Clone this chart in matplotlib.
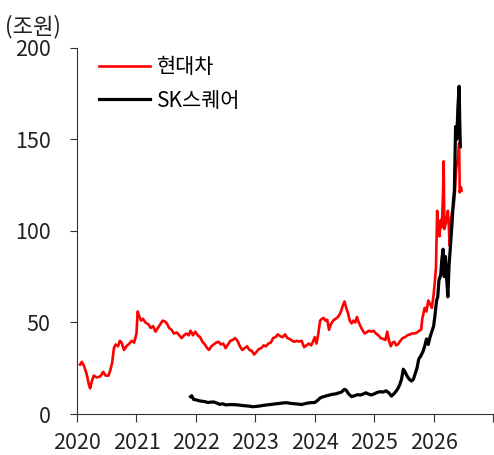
import matplotlib.pyplot as plt

plt.rcParams['font.family'] = ['Noto Sans CJK KR', 'DejaVu Sans']

# 현대차 시가총액 (조원)
hyundai_x = [2020.05, 2020.08, 2020.12, 2020.16, 2020.20, 2020.22, 2020.25, 2020.28, 2020.33, 2020.39,
             2020.44, 2020.48, 2020.53, 2020.56, 2020.59, 2020.62, 2020.65, 2020.69, 2020.72, 2020.75,
             2020.79, 2020.83, 2020.88, 2020.92, 2020.96, 2021.00, 2021.02, 2021.05, 2021.08, 2021.11,
             2021.15, 2021.20, 2021.24, 2021.28, 2021.32, 2021.36, 2021.40, 2021.44, 2021.48, 2021.51,
             2021.55, 2021.59, 2021.63, 2021.68, 2021.72, 2021.76, 2021.80, 2021.84, 2021.88, 2021.91,
             2021.95, 2021.99, 2022.03, 2022.07, 2022.11, 2022.15, 2022.19, 2022.22, 2022.26, 2022.30,
             2022.34, 2022.38, 2022.42, 2022.46, 2022.50, 2022.54, 2022.58, 2022.62, 2022.66, 2022.70,
             2022.74, 2022.78, 2022.82, 2022.86, 2022.90, 2022.94, 2022.98, 2023.02, 2023.06, 2023.10,
             2023.14, 2023.18, 2023.22, 2023.26, 2023.30, 2023.34, 2023.38, 2023.42, 2023.46, 2023.50,
             2023.54, 2023.58, 2023.62, 2023.66, 2023.70, 2023.74, 2023.78, 2023.82, 2023.86, 2023.90,
             2023.94, 2023.97, 2024.00, 2024.03, 2024.06, 2024.09, 2024.12, 2024.15, 2024.18, 2024.21,
             2024.24, 2024.27, 2024.31, 2024.35, 2024.39, 2024.43, 2024.47, 2024.50, 2024.53, 2024.56,
             2024.59, 2024.62, 2024.65, 2024.68, 2024.71, 2024.74, 2024.77, 2024.80, 2024.84, 2024.87,
             2024.91, 2024.95, 2024.99, 2025.03, 2025.07, 2025.11, 2025.15, 2025.19, 2025.22, 2025.25,
             2025.28, 2025.31, 2025.34, 2025.37, 2025.40, 2025.44, 2025.48, 2025.52, 2025.56, 2025.60,
             2025.64, 2025.68, 2025.72, 2025.76, 2025.79, 2025.81, 2025.83, 2025.85, 2025.88, 2025.91,
             2025.94, 2025.97, 2026.00, 2026.02, 2026.04, 2026.06, 2026.08, 2026.10, 2026.12, 2026.14,
             2026.16, 2026.17, 2026.18, 2026.21, 2026.24, 2026.26, 2026.27, 2026.29, 2026.31, 2026.34,
             2026.36, 2026.38, 2026.41, 2026.43, 2026.44, 2026.46, 2026.47]
hyundai_y = [27, 28.5, 26, 22, 16, 14, 18, 21, 20, 20.5,
             23, 21, 21, 24, 28, 36, 38, 37, 40, 39,
             35, 37, 38.5, 40, 39, 44, 56, 53, 51, 52,
             50, 49, 47, 48, 45, 47, 49, 51, 50.5, 49.5,
             47, 46, 44, 44.5, 43, 41.5, 43, 44, 43, 45.5,
             43, 45, 43, 42, 39.5, 38, 36, 35, 37, 38,
             39, 39.5, 38, 38.5, 36, 38, 40, 40.5, 41.5, 40,
             37, 35, 36, 37, 35, 34.5, 32.5, 34, 35.5, 36,
             37.5, 37, 38.5, 39, 41.5, 42, 43.5, 42.5, 42, 43.5,
             41.5, 41, 40, 39.5, 40, 39.5, 40, 36.5, 37.5, 38.5,
             37.5, 39.5, 42, 38.5, 44, 51, 52, 52.5, 51, 51.5,
             46, 49, 51, 52, 53, 55, 59, 61.5, 58, 55,
             51, 49.5, 51, 50, 53, 50, 48, 46, 44, 44.5,
             45.5, 45, 45.5, 44, 43, 41.5, 41, 40.5, 45, 40,
             37, 39, 39.5, 37.5, 38, 40, 41.5, 42, 43, 43.5,
             44, 44, 44.5, 45.5, 46, 52, 55, 58, 56, 62,
             60, 58, 65, 72, 80, 111, 100, 97, 106, 102,
             122, 138, 101, 105, 111, 100, 92, 106, 110, 114,
             122, 134, 140, 148, 121, 124, 122]

# SK스퀘어 시가총액 (조원)
sksq_x = [2021.91, 2021.93, 2021.96, 2022.00, 2022.05, 2022.10, 2022.15, 2022.20, 2022.25, 2022.30,
          2022.35, 2022.40, 2022.45, 2022.50, 2022.60, 2022.70, 2022.80, 2022.90, 2022.96, 2023.05,
          2023.15, 2023.25, 2023.35, 2023.45, 2023.52, 2023.60, 2023.70, 2023.78, 2023.85, 2023.92,
          2024.00, 2024.05, 2024.10, 2024.15, 2024.20, 2024.25, 2024.30, 2024.35, 2024.40, 2024.45,
          2024.50, 2024.53, 2024.57, 2024.62, 2024.67, 2024.72, 2024.77, 2024.82, 2024.86, 2024.90,
          2024.95, 2025.00, 2025.05, 2025.10, 2025.15, 2025.20, 2025.25, 2025.29, 2025.33, 2025.37,
          2025.40, 2025.43, 2025.46, 2025.49, 2025.52, 2025.55, 2025.59, 2025.63, 2025.66, 2025.69,
          2025.72, 2025.75, 2025.78, 2025.82, 2025.85, 2025.88, 2025.91, 2025.94, 2025.97, 2026.00,
          2026.02, 2026.05, 2026.07, 2026.09, 2026.12, 2026.14, 2026.16, 2026.18, 2026.20, 2026.22,
          2026.24, 2026.26, 2026.28, 2026.31, 2026.33, 2026.35, 2026.37, 2026.39, 2026.41, 2026.43,
          2026.44, 2026.45]
sksq_y = [9.5, 10, 8, 7.8, 7.3, 7, 6.8, 6.3, 6.5, 6.6,
          6, 5.3, 5.6, 5.0, 5.2, 5, 4.6, 4.3, 4.0, 4.3,
          4.8, 5.2, 5.6, 6.0, 6.2, 5.8, 5.5, 5.2, 5.8, 6.2,
          6.3, 7.5, 9, 9.5, 10, 10.4, 10.8, 11, 11.5, 12,
          13.5, 13, 11, 9.5, 10, 10.6, 10.4, 11, 11.6, 11,
          10.4, 11, 11.8, 12.2, 12, 12.7, 11.5, 9.8, 11, 12.5,
          14, 16, 19, 24.5, 23, 21, 19, 18, 19, 22,
          25, 30, 31.5, 34, 37, 41, 38, 42, 45, 48,
          53, 62, 64, 73, 76, 85, 90, 75, 86, 74,
          64, 81, 90, 104, 115, 122, 157, 150, 168, 179,
          160, 146]

year_ticks = [2020, 2021, 2022, 2023, 2024, 2025, 2026, 2027]
year_labels = ['2020', '2021', '2022', '2023', '2024', '2025', '2026', '']

fig = plt.figure(figsize=(4.94, 4.55), dpi=100)
ax = fig.add_axes([0.156, 0.09, 0.842, 0.805])

ax.plot(hyundai_x, hyundai_y, color='#ff0000', lw=1.9, label='현대차')
ax.plot(sksq_x, sksq_y, color='black', lw=2.3, label='SK스퀘어')

ax.set_xlim(2020, 2027)
ax.set_ylim(0, 200)
ax.set_yticks([0, 50, 100, 150, 200])
ax.set_xticks(year_ticks)
ax.set_xticklabels(year_labels)
ax.tick_params(labelsize=15.5, color='#333333', labelcolor='#222222')
ax.tick_params(axis='y', length=5, pad=14)
ax.tick_params(axis='x', length=6, pad=7)
ax.spines['top'].set_visible(False)
ax.spines['right'].set_visible(False)
for s in ['left', 'bottom']:
    ax.spines[s].set_color('#333333')

fig.text(0.01, 0.968, '(조원)', fontsize=16, va='top', color='#222222')

ax.legend(loc='upper left', bbox_to_anchor=(0.053, 0.977), frameon=False,
          borderpad=0, borderaxespad=0,
          fontsize=15, handlelength=2.45, handletextpad=0.33, labelspacing=0.55)

plt.savefig('out.png', dpi=100)
